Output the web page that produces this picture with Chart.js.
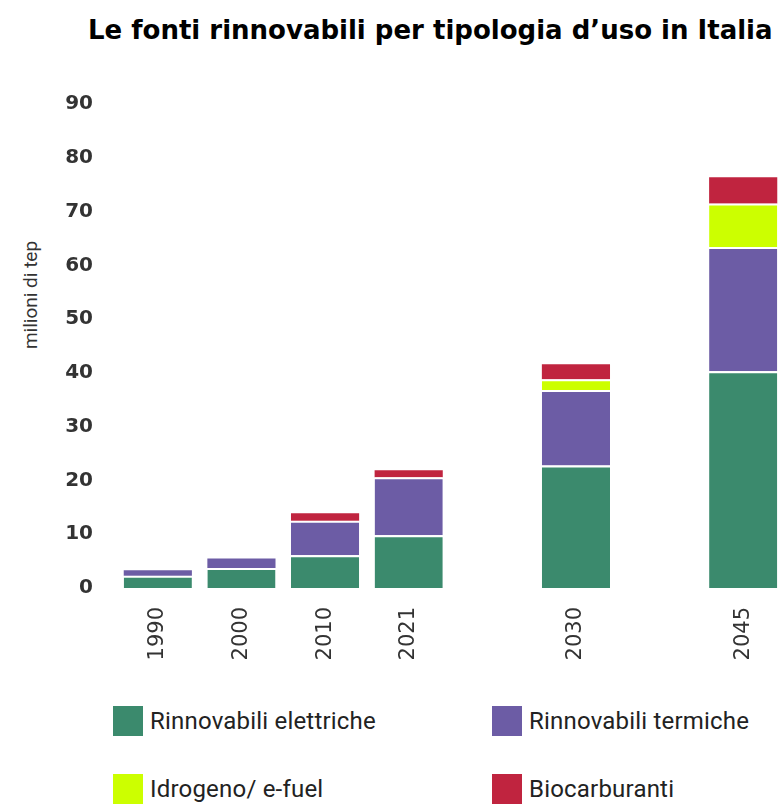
<!DOCTYPE html>
<html lang="it">
<head>
<meta charset="utf-8">
<script src="https://cdn.jsdelivr.net/npm/chart.js@4.4.1/dist/chart.umd.min.js"></script>
<style>
  html, body { margin: 0; padding: 0; background: #fff; overflow: hidden; width: 782px; height: 804px; }
  #titolo {
    position: absolute; left: 88px; top: 15px; white-space: nowrap;
    font-family: "DejaVu Sans", sans-serif; font-weight: bold; font-size: 26px; color: #000;
  }
  #asseY {
    position: absolute; left: 30px; top: 295px; white-space: nowrap;
    transform: translate(-50%, -50%) rotate(-90deg);
    font-family: Roboto, sans-serif; font-size: 19px; color: #333;
  }
  #box { position: absolute; left: 0; top: 0; width: 800px; height: 700px; }
  #legenda { position: absolute; left: 0; top: 0; }
  .voce {
    position: absolute; display: flex; align-items: center; white-space: nowrap;
    font-family: Roboto, sans-serif; font-size: 24px; letter-spacing: 0.2px; color: #222;
  }
  .voce span.q { width: 30px; height: 30px; margin-right: 7px; display: inline-block; }
</style>
</head>
<body>
<div id="titolo">Le fonti rinnovabili per tipologia d’uso in Italia</div>
<div id="asseY">milioni di tep</div>
<div id="box"><canvas id="chartFonti"></canvas></div>
<div id="legenda"></div>

<script>
// anni (gli slot vuoti lasciano lo spazio tra 2021, 2030 e 2045)
const anni = ['1990', '2000', '2010', '2021', '', '2030', '', '2045'];

// milioni di tep per tipologia
const elettriche = [2.3, 3.7, 6.1, 9.8, null, 22.8, null, 40.3];
const termiche   = [1.0, 1.8, 6.4, 10.8, null, 14.0, null, 23.1];
const idrogeno   = [null, null, null, null, null, 2.0, null, 8.1];
const biocarb    = [null, null, 1.4, 1.3, null, 2.8, null, 4.9];

const tickY = [0, 10, 20, 30, 40, 50, 60, 70, 80, 90];

const serie = [
  { label: 'Rinnovabili elettriche', data: elettriche, color: '#3b8a6d' },
  { label: 'Rinnovabili termiche',   data: termiche,   color: '#6c5ca5' },
  { label: 'Idrogeno/ e-fuel',       data: idrogeno,   color: '#ccff00' },
  { label: 'Biocarburanti',          data: biocarb,    color: '#c0243f' }
];

// filetto bianco sopra ogni segmento, tranne l'ultimo della colonna
function bordoSegmento(c) {
  const sopra = serie.slice(c.datasetIndex + 1).some(s => s.data[c.dataIndex] != null);
  return { top: sopra ? 2 : 0, right: 0, bottom: 0, left: 0 };
}

const ctx = document.getElementById('chartFonti');
const chartFonti = new Chart(ctx, {
  type: 'bar',
  data: {
    labels: anni,
    datasets: serie.map(s => ({
      label: s.label,
      data: s.data,
      backgroundColor: s.color,
      borderColor: '#ffffff',
      borderWidth: bordoSegmento,
      barPercentage: 0.815,
      categoryPercentage: 1
    }))
  },
  options: {
    responsive: true,
    maintainAspectRatio: false,
    animation: false,
    layout: { padding: { top: 104, right: 15, bottom: 0, left: 0 } },
    scales: {
      x: {
        stacked: true,
        grid: { display: false, drawTicks: false },
        border: { display: false },
        afterFit: scale => { scale.height = 112; },
        ticks: {
          autoSkip: false,
          minRotation: 90,
          maxRotation: 90,
          padding: 19,
          color: '#333',
          font: { family: 'DejaVu Sans', size: 21 }
        }
      },
      y: {
        stacked: true,
        min: 0,
        max: 90,
        grid: { display: false, drawTicks: false },
        border: { display: false },
        afterFit: scale => { scale.width = 116; },
        afterBuildTicks: scale => { scale.ticks = tickY.map(v => ({ value: v })); },
        ticks: {
          padding: 23,
          color: '#333',
          font: { family: 'DejaVu Sans', size: 20, weight: 'bold' }
        }
      }
    },
    plugins: {
      legend: { display: false },
      tooltip: { enabled: false }
    }
  }
});

// legenda 2x2 costruita dai dataset del grafico
const posLegenda = [[113, 706], [492, 706], [113, 774], [492, 774]];
const legenda = document.getElementById('legenda');
chartFonti.data.datasets.forEach((ds, i) => {
  const voce = document.createElement('div');
  voce.className = 'voce';
  voce.style.left = posLegenda[i][0] + 'px';
  voce.style.top = posLegenda[i][1] + 'px';
  voce.innerHTML = '<span class="q" style="background:' + ds.backgroundColor + '"></span>' + ds.label;
  legenda.appendChild(voce);
});
</script>
</body>
</html>
